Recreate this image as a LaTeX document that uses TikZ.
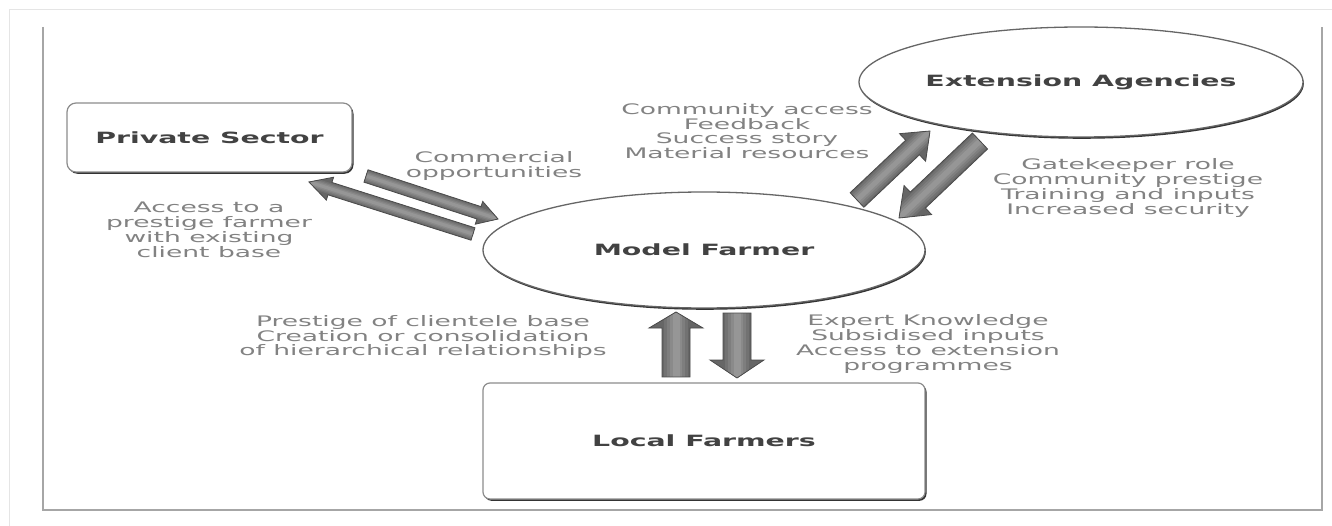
\documentclass[tikz,border=0pt]{standalone}
\usepackage{fontspec}
\newfontfamily\wide[FakeStretch=1.83]{DejaVu Sans}
\usetikzlibrary{calc,shadows,shapes.geometric}
\definecolor{labgray}{HTML}{828282}
\definecolor{boldgray}{HTML}{424242}
\definecolor{framegray}{HTML}{A6A6A6}
\definecolor{arrowA}{HTML}{666666}
\definecolor{arrowB}{HTML}{727272}
\definecolor{arrowC}{HTML}{7E7E7E}
\definecolor{arrowD}{HTML}{8A8A8A}
\definecolor{arrowE}{HTML}{969696}
\definecolor{arrowedge}{HTML}{4A4A4A}
\tikzset{
  lab/.style={font=\wide\fontsize{14.5}{14.8}\selectfont, text=labgray, align=center, inner sep=0pt},
  title/.style={font=\wide\bfseries\fontsize{15.5}{16}\selectfont, text=boldgray},
  boxnode/.style={title, draw=black!45, line width=1.2pt, fill=white, rounded corners=9pt, inner sep=0pt,
    drop shadow={shadow xshift=1.5pt, shadow yshift=-1.8pt, fill=black!80, opacity=1}},
  ellnode/.style={title, ellipse, draw=black!60, line width=1.3pt, fill=white, inner sep=0pt,
    drop shadow={shadow xshift=0.8pt, shadow yshift=-1.8pt, fill=black!80, opacity=1}},
  frameline/.style={draw=framegray, line width=2.5pt},
  faintline/.style={draw=black!10, line width=1pt},
  arrowedgestyle/.style={draw=arrowedge, line width=0.8pt, line join=miter},
}
% #1 tail, #2 tip, #3 half shaft width, #4 half head width, #5 head length
\newcommand\fatarrow[5]{%
  \coordinate (#1#2b) at ($(#2)!#5!(#1)$);
  \begin{scope}
    \clip ($(#1)!#3!90:(#2)$) -- ($(#1#2b)!#3!90:(#2)$) -- ($(#1#2b)!#4!90:(#2)$) -- (#2)
      -- ($(#1#2b)!#4!-90:(#2)$) -- ($(#1#2b)!#3!-90:(#2)$) -- ($(#1)!#3!-90:(#2)$) -- cycle;
    \draw[arrowA, line width={2*#4}] (#1) -- (#2);
    \draw[arrowB, line width={1.7*#3}] (#1) -- (#2);
    \draw[arrowC, line width={1.3*#3}] (#1) -- (#2);
    \draw[arrowD, line width={0.9*#3}] (#1) -- (#2);
    \draw[arrowE, line width={0.5*#3}] (#1) -- (#2);
  \end{scope}
  \path[arrowedgestyle] ($(#1)!#3!90:(#2)$) -- ($(#1#2b)!#3!90:(#2)$) -- ($(#1#2b)!#4!90:(#2)$) -- (#2)
      -- ($(#1#2b)!#4!-90:(#2)$) -- ($(#1#2b)!#3!-90:(#2)$) -- ($(#1)!#3!-90:(#2)$) -- cycle;
}
\begin{document}
\begin{tikzpicture}[x=1pt,y=-1pt]
\useasboundingbox (0,0) rectangle (1332,526);
\fill[white] (0,0) rectangle (1332,526);
% frame
\draw[faintline] (9,526) -- (9,10) -- (1332,10);
\draw[frameline] (43,27) -- (43,510) -- (1322,510) -- (1322,27);
% main nodes
\node[boxnode, minimum width=285pt, minimum height=69pt] (ps) at (209.5,137.5) {Private Sector};
\node[ellnode, minimum width=442pt, minimum height=116pt] (mf) at (704,250) {Model Farmer};
\node[ellnode, minimum width=444pt, minimum height=110pt] (ea) at (1081,82) {Extension Agencies};
\node[boxnode, rounded corners=7pt, minimum width=442pt, minimum height=116pt] (lf) at (704,441) {Local Farmers};
% labels
\node[lab] (l1) at (494,166) {Commercial\\opportunities};
\node[lab] (l2) at (209,230) {Access to a\\prestige farmer\\with existing\\client base};
\node[lab] (l3) at (747,131) {Community access\\Feedback\\Success story\\Material resources};
\node[lab] (l4) at (1128,188) {Gatekeeper role\\Community prestige\\Training and inputs\\Increased security};
\node[lab] (l5) at (423,337) {Prestige of clientele base\\Creation or consolidation\\of hierarchical relationships};
\node[lab] (l6) at (928,344) {Expert Knowledge\\Subsidised inputs\\Access to extension\\programmes};
% arrow end points
\coordinate (a1s) at (366,176); \coordinate (a1e) at (498,219);
\coordinate (a2s) at (473,234); \coordinate (a2e) at (309,182);
\coordinate (a3s) at (857,200); \coordinate (a3e) at (930,131);
\coordinate (a4s) at (980,141); \coordinate (a4e) at (899,218);
\coordinate (a5s) at (676,377); \coordinate (a5e) at (676,312);
\coordinate (a6s) at (737,313); \coordinate (a6e) at (737,378);
\fatarrow{a1s}{a1e}{6.5pt}{12pt}{20pt}
\fatarrow{a2s}{a2e}{6.5pt}{12pt}{22pt}
\fatarrow{a3s}{a3e}{10pt}{19pt}{24pt}
\fatarrow{a4s}{a4e}{11pt}{20pt}{26pt}
\fatarrow{a5s}{a5e}{14pt}{27pt}{16pt}
\fatarrow{a6s}{a6e}{14pt}{27pt}{18pt}
\end{tikzpicture}
\end{document}
